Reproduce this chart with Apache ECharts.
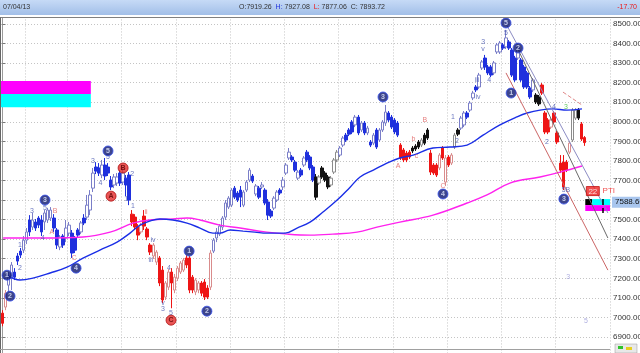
<!DOCTYPE html>
<html><head><meta charset="utf-8">
<script src="https://cdn.jsdelivr.net/npm/echarts@6/dist/echarts.min.js"></script>
<style>html,body{margin:0;padding:0;background:#fff}#c{width:640px;height:353px}</style>
</head><body><div id="c"></div>
<script>
// ---------- data ----------
const categoryCount = 202; // 194 sessions + empty space on the right
// [open, close, low, high]
const candleOHLC = [
[7022,6970,6955,7037],[7053,7124,7037,7140],[7165,7206,7130,7232],[7201,7268,7140,7283],[7232,7206,7191,7252],
[7314,7288,7268,7329],[7339,7319,7304,7355],[7344,7395,7329,7416],[7395,7437,7375,7457],[7498,7437,7416,7523],
[7462,7498,7447,7534],[7488,7457,7442,7503],[7508,7472,7457,7518],[7498,7437,7416,7523],[7488,7534,7447,7549],
[7498,7549,7483,7560],[7508,7549,7493,7564],[7508,7457,7437,7528],[7447,7370,7350,7457],[7360,7411,7344,7421],
[7416,7370,7355,7426],[7406,7457,7385,7498],[7431,7472,7416,7488],[7431,7329,7304,7447],[7406,7344,7329,7416],
[7447,7421,7411,7457],[7437,7483,7426,7493],[7508,7483,7472,7528],[7513,7574,7498,7626],[7549,7626,7523,7651],
[7661,7738,7641,7764],[7769,7748,7733,7794],[7764,7738,7723,7789],[7728,7779,7712,7805],[7779,7723,7702,7815],
[7769,7738,7723,7789],[7702,7667,7651,7723],[7677,7718,7661,7733],[7687,7718,7672,7738],[7738,7687,7672,7753],
[7692,7738,7677,7764],[7712,7677,7620,7728],[7728,7600,7574,7743],[7528,7488,7467,7549],[7513,7462,7447,7528],
[7462,7421,7395,7477],[7437,7472,7426,7483],[7518,7467,7447,7549],[7452,7411,7395,7462],[7370,7334,7319,7380],
[7314,7370,7299,7380],[7283,7334,7268,7344],[7304,7176,7160,7314],[7242,7089,7073,7263],[7104,7176,7089,7186],
[7155,7232,7140,7247],[7232,7176,7047,7252],[7140,7206,7124,7222],[7201,7252,7186,7263],[7232,7278,7222,7288],
[7242,7293,7232,7304],[7304,7268,7252,7319],[7304,7140,7124,7314],[7206,7140,7124,7217],[7130,7191,7114,7201],
[7140,7176,7124,7186],[7176,7124,7109,7186],[7181,7104,7089,7196],[7150,7104,7094,7165],[7155,7329,7140,7344],
[7339,7395,7329,7406],[7406,7437,7385,7457],[7426,7467,7416,7477],[7462,7508,7447,7518],[7513,7585,7498,7600],
[7564,7610,7554,7620],[7574,7651,7564,7661],[7661,7615,7605,7672],[7636,7600,7590,7646],[7651,7615,7564,7672],
[7574,7641,7564,7651],[7651,7692,7641,7702],[7702,7753,7692,7764],[7723,7697,7687,7733],[7631,7672,7620,7682],
[7661,7615,7605,7672],[7667,7677,7656,7692],[7651,7585,7574,7661],[7590,7523,7498,7605],[7544,7518,7508,7554],
[7559,7610,7549,7620],[7600,7641,7590,7651],[7651,7636,7626,7661],[7667,7702,7651,7718],[7738,7779,7728,7789],
[7815,7845,7805,7866],[7820,7805,7794,7830],[7794,7753,7743,7805],[7712,7743,7702,7753],[7753,7728,7718,7764],
[7779,7815,7769,7825],[7845,7805,7794,7856],[7820,7764,7753,7830],[7769,7702,7692,7779],[7718,7615,7600,7733],
[7687,7718,7677,7728],[7764,7718,7708,7774],[7738,7702,7692,7748],[7718,7667,7656,7728],[7677,7712,7667,7723],
[7743,7805,7733,7815],[7805,7845,7794,7856],[7830,7866,7820,7876],[7881,7917,7871,7927],[7932,7907,7897,7943],
[7958,7937,7927,7968],[7999,7948,7937,8009],[7984,8024,7973,8035],[8024,7943,7932,8035],[7958,7994,7948,8004],
[7994,7943,7932,8004],[7943,7968,7932,7979],[7897,7881,7871,7907],[7891,7932,7881,7943],[7958,7871,7861,7968],
[7907,7958,7897,7968],[7958,7999,7948,8009],[7994,8050,7979,8086],[8045,8009,7999,8055],[8024,7973,7963,8035],
[8009,7948,7937,8019],[7994,7932,7922,8004],[7881,7815,7805,7891],[7856,7805,7794,7866],[7840,7805,7794,7851],
[7845,7820,7810,7856],[7866,7851,7840,7876],[7876,7861,7851,7886],[7897,7871,7861,7907],[7881,7907,7871,7917],
[7932,7891,7881,7943],[7958,7917,7907,7968],[7840,7743,7728,7856],[7779,7738,7728,7789],[7779,7728,7718,7789],
[7764,7830,7753,7840],[7866,7815,7805,7876],[7692,7815,7672,7830],[7820,7779,7769,7830],[7789,7830,7779,7840],
[7871,7932,7861,7943],[7958,7937,7927,7968],[7968,8019,7958,8030],[7984,8045,7973,8055],[8045,8024,8014,8055],
[8060,8096,8050,8106],[8122,8147,8111,8158],[8178,8163,8152,8188],[8178,8239,8168,8250],[8275,8306,8265,8316],
[8326,8280,8265,8342],[8280,8250,8239,8291],[8280,8239,8229,8291],[8250,8301,8239,8311],[8357,8393,8347,8403],
[8357,8403,8347,8413],[8393,8377,8367,8403],[8383,8429,8372,8470],[8408,8377,8367,8418],[8367,8239,8229,8377],
[8326,8214,8204,8337],[8326,8383,8316,8393],[8316,8214,8204,8326],[8280,8178,8168,8291],[8250,8178,8168,8260],
[8173,8127,8117,8183],[8163,8214,8152,8224],[8137,8101,8091,8147],[8127,8091,8081,8137],[8188,8147,8137,8198],
[8045,7948,7937,8055],[8009,7948,7937,8019],[7973,8009,7963,8019],[8045,7999,7989,8055],[7943,7897,7886,7953],
[7789,7753,7738,7830],[7794,7667,7651,7830],[7794,7753,7743,7805],[7845,7891,7835,7902],[7907,8060,7897,8070],
[8019,8060,8009,8070],[8060,8019,8009,8070],[7989,7912,7902,7999],[7919.26,7893.72,7877.06,7927.08]
];
// B blue filled, b blue hollow, R red filled, r red hollow, K black filled, k black hollow
const candleStyle = "RrbbBBBbbB"+"bBBBbbbBBb"+"BbbBBBbBbb"+"bBBbBBBbbB"+"bBBRRRrRRR"+
  "rrRRrrRrrr"+"rRRRrrRRRr"+"bbbbbbbBBB"+"bbbBbBbBBB"+"bbBbbbBBbB"+
  "bBBBKkKKKk"+"kkbbBBBbBb"+"BbBbBbbbBB"+"BBRRRRKKKk"+"KKRRRrRrRr"+
  "kKbbBbbBbb"+"BBBbbbBbBB"+"BbBBBBbKKR"+"RRrRRRRRrk"+"kKRR";

// moving averages: [session index, price]
const blueMA = [[1.5,7216],[5.8,7191],[10.1,7201],[15.8,7227],[21.4,7257],[26.7,7303],[32.3,7344],[38,7385],
 [42.3,7431],[45.6,7472],[48.9,7493],[52.2,7503],[56.5,7498],[61.2,7482],[65.5,7457],[69.8,7431],[72.1,7431],
 [75.5,7447],[79.8,7441],[83.7,7436],[87.7,7431],[93.7,7431],[97.7,7457],[102,7487],[106.3,7539],[111,7600],
 [115.3,7666],[118.6,7718],[123,7753],[127.5,7789],[131.8,7815],[136.2,7830],[142.8,7866],[148.4,7871],
 [154.1,7881],[159.4,7932],[165,7984],[170.6,8025],[174,8045],[178.3,8060],[182.6,8066],[187.2,8060],[192.2,8066]];
const pinkMA = [[0.2,7406],[13.4,7406],[26.7,7411],[35.7,7436],[43.3,7482],[48.9,7498],[56.5,7503],[61.2,7508],
 [65.5,7498],[72.1,7472],[78.8,7457],[87.7,7436],[94.4,7426],[102,7421],[109.6,7426],[117.6,7436],[124.2,7462],
 [131.8,7487],[142.8,7523],[154.1,7585],[160.7,7626],[168.3,7687],[178.3,7718],[185,7743],[192.2,7774]];

// trend channel lines
const trendA = [[166.7,8510],[200.8,7534]];
const trendB = [[170.6,8383],[200.8,7406]];
const trendC = [[167,8250],[200.8,7242]];
const trendD = [[185.9,8152],[192.2,8086]];

// price zones [x1, price1, x2, price2]
const zoneMagentaLeft = [-0.5,8209,29.3,8142];
const zoneCyanLeft = [-0.5,8142,29.3,8075];
const zoneBlackRight = [193.3,7605,195.6,7574];
const zoneCyanRight = [195.6,7605,201.5,7574];
const zoneMagentaRight = [193.3,7574,201.5,7544];
const zoneTick = [199.2,7605,7534];
const lastPrice = 7588.60;
const ptiNote = [193.5,7646,'22','PTI'];

// wave labels [session index, price, text]
const blueCircles = [[1.5,7216,'1'],[2.5,7109,'2'],[14.1,7600,'3'],[24.4,7252,'4'],[35,7851,'5'],[61.9,7339,'1'],
 [67.8,7032,'2'],[126.2,8127,'3'],[146.1,7631,'4'],[167,8505,'5'],[168.7,8147,'1'],[171,8377,'2'],[186.2,7605,'3']];
const redCircles = [[36,7620,'A'],[40,7764,'B'],[55.9,6986,'C']];
const blueNotes = [[5.8,7370,'1'],[5.8,7252,'2'],[9.8,7544,'3'],[14.1,7559,'5'],[13.4,7406,'4'],[30,7800,'3'],
 [35,7820,'5'],[32.5,7687,'4'],[43,7733,'2'],[41,7605,'1'],[43.3,7569,'1'],[49.9,7395,'iv'],[49.2,7293,'iii'],
 [55.2,7252,'4'],[53.2,7073,'v'],[53.2,7042,'3'],[55.9,7022,'5'],[149.4,8025,'1'],[150.7,7902,'2'],
 [157.4,8214,'iii'],[157.7,8127,'iv'],[159.4,8408,'3'],[159.4,8372,'v'],[161.4,8214,'4'],[167,8454,'5'],
 [182.9,8076,'4'],[180.6,7897,'2'],[186.9,7651,'5B']];
const redNotes = [[16.4,7436,'A'],[17.4,7544,'B'],[23.7,7303,'C'],[47.6,7539,'ii'],[131.2,7774,'A'],
 [140.1,8009,'B'],[136.3,7912,'b'],[137.3,7825,'c'],[146.1,7672,'C']];
const greenNotes = [[186.9,8076,'3']];
const lightNotes = [[187.6,7206,'3'],[193.5,6981,'5']];

// header values
const hdrDate = '07/04/13', hdrO = '7919.26', hdrH = '7927.08', hdrL = '7877.06', hdrC = '7893.72', hdrChg = '-17.70';

// ---------- chart ----------
const STY = {
  B:{fill:'#1f30dd', line:'#1f30dd'}, b:{fill:'#ffffff', line:'#7a7ec8'},
  R:{fill:'#ee1515', line:'#ee1515'}, r:{fill:'#ffffff', line:'#d98c8c'},
  K:{fill:'#111111', line:'#111111'}, k:{fill:'#ffffff', line:'#8c8c8c'}
};
const cats = Array.from({length: categoryCount}, (_, i) => String(i));
const candleData = candleOHLC.map((v, i) => {
  const s = STY[candleStyle[i]];
  return {value: v, itemStyle: {color: s.fill, color0: s.fill, borderColor: s.line, borderColor0: s.line, borderWidth: 1}};
});
const FONT = 'Liberation Sans';
const CLEAR = 'rgba(0,0,0,0)';
function noteSeries(arr, color, size) {
  return {type:'scatter', xAxisIndex:1, yAxisIndex:0, symbolSize:1, itemStyle:{color: CLEAR}, z:6, silent:true,
    data: arr.map(a => ({value:[a[0], a[1]], name:a[2]})),
    label:{show:true, position:'inside', formatter: p => p.name, color: color, fontSize: size || 7, fontFamily: FONT}};
}
function circleSeries(arr, fill, txt, ring) {
  return {type:'scatter', xAxisIndex:1, yAxisIndex:0, symbol:'circle', symbolSize:10, z:7, silent:true,
    itemStyle:{color: fill, borderColor: ring, borderWidth: 1},
    data: arr.map(a => ({value:[a[0], a[1]], name:a[2]})),
    label:{show:true, position:'inside', formatter: p => p.name, color: txt, fontSize: 7, fontWeight:'bold', fontFamily: FONT}};
}
function zone(z, color) { return [{coord:[z[0], z[1]], itemStyle:{color: color, opacity: 1}}, {coord:[z[2], z[3]]}]; }
function trend(d, color, type) {
  return {type:'line', xAxisIndex:1, yAxisIndex:0, data:d, showSymbol:false, silent:true, z:4,
    lineStyle:{color: color, width: 1, type: type || 'solid'}};
}

const chart = echarts.init(document.getElementById('c'), null, {renderer:'canvas'});
chart.setOption({
  animation:false,
  backgroundColor:'#ffffff',
  grid:{left:1, right:30, top:4.44, height:352.12, show:false, containLabel:false, outerBoundsMode:'none'},
  xAxis:[
    {type:'category', data:cats, boundaryGap:true, axisLine:{show:false}, axisTick:{show:false}, axisLabel:{show:false},
     splitLine:{show:true, interval:(i) => (i % 18 === 4 && i > 4) || i === 8,
       lineStyle:{color:'#c4c4c4', type:[1,2], width:1}}},
    {type:'value', min:-0.5, max:201.5, show:false}
  ],
  yAxis:[{type:'value', position:'right', min:6800, max:8600, interval:100,
    axisLine:{show:true, lineStyle:{color:'#9a9a9a'}},
    axisTick:{show:true, length:3, lineStyle:{color:'#777'}},
    axisLabel:{formatter: v => v.toFixed(2), fontSize:8, color:'#333', margin:3, fontFamily: FONT},
    splitLine:{show:true, lineStyle:{color:'#c4c4c4', type:[1,2]}}}],
  series:[
    {type:'candlestick', xAxisIndex:0, yAxisIndex:0, data:candleData, barWidth:3, z:2, silent:true},
    {type:'line', xAxisIndex:1, yAxisIndex:0, data:pinkMA, smooth:0.4, showSymbol:false, z:3, silent:true,
     lineStyle:{color:'#ff22ee', width:1.4}},
    {type:'line', xAxisIndex:1, yAxisIndex:0, data:blueMA, smooth:0.4, showSymbol:false, z:3, silent:true,
     lineStyle:{color:'#1a2ee6', width:1.4}},
    trend(trendA, '#8c8cc4'), trend(trendB, '#6a6a6a'), trend(trendC, '#cc6666'), trend(trendD, '#e08888', 'dashed'),
    {type:'line', xAxisIndex:1, yAxisIndex:0, data:[], z:1, silent:true,
     markArea:{silent:true, data:[zone(zoneMagentaLeft,'#ff00ff'), zone(zoneCyanLeft,'#00ffff'),
       zone(zoneBlackRight,'#000000'), zone(zoneCyanRight,'#00ffff'), zone(zoneMagentaRight,'#ff00ff')]},
     markLine:{silent:true, symbol:'none', animation:false,
       data:[
         [{coord:[zoneTick[0], zoneTick[1]], lineStyle:{color:'#000', width:1.5}, label:{show:false}},
          {coord:[zoneTick[0], zoneTick[2]]}]
       ]}},
    {type:'line', xAxisIndex:1, yAxisIndex:0, data:[], z:9, silent:true,
     markLine:{silent:true, symbol:'none', animation:false, lineStyle:{color: CLEAR, width:0.1},
       label:{show:true, position:'end', distance:2, formatter: lastPrice.toFixed(2),
         backgroundColor:'#a9c6ee', color:'#111', fontSize:8, padding:[2,3,1,3], fontFamily: FONT},
       data:[[{coord:[194, lastPrice]}, {coord:[201.5, lastPrice]}]]}},
    {type:'scatter', xAxisIndex:1, yAxisIndex:0, symbolSize:1, itemStyle:{color: CLEAR}, z:8, silent:true,
     data:[{value:[ptiNote[0], ptiNote[1]]}],
     label:{show:true, position:'right', distance:0, formatter:'{a|' + ptiNote[2] + '} {b|' + ptiNote[3] + '}',
       rich:{a:{backgroundColor:'#ee2222', color:'#fff', fontSize:8, padding:[1,2,0,2], borderColor:'#aa0000', borderWidth:0.5, fontFamily: FONT},
             b:{color:'#ee2222', fontSize:8, fontFamily: FONT}}}},
    circleSeries(blueCircles, '#0c1670', '#e6ecff', '#3a52ee'),
    circleSeries(redCircles, '#e42a2a', '#5a0000', '#b01010'),
    noteSeries(blueNotes, '#4656b0'),
    noteSeries(redNotes, '#e06060'),
    noteSeries(greenNotes, '#3cbf3c'),
    noteSeries(lightNotes, '#9a9ad8')
  ],
  graphic:[
    {type:'rect', z:100, shape:{x:0, y:0, width:640, height:15},
     style:{fill:new echarts.graphic.LinearGradient(0,0,0,1,[{offset:0,color:'#c6daf6'},{offset:1,color:'#a2bfe8'}])}},
    {type:'rect', z:100, shape:{x:0, y:15, width:640, height:3}, style:{fill:'#ffffff'}},
    {type:'line', z:101, shape:{x1:0, y1:17.5, x2:640, y2:17.5}, style:{stroke:'#808080', lineWidth:1}},
    {type:'line', z:101, shape:{x1:0.5, y1:17.5, x2:0.5, y2:353}, style:{stroke:'#666', lineWidth:1}},
    {type:'line', z:101, shape:{x1:0, y1:349.5, x2:610, y2:349.5}, style:{stroke:'#a0a0a0', lineWidth:1}},
    {type:'text', z:102, x:3, y:4, style:{text:hdrDate, fill:'#333', font:'7px "Liberation Sans"'}},
    {type:'text', z:102, x:239, y:4, style:{
      text:'O:' + hdrO + '  {h|H:} ' + hdrH + '  {l|L:} ' + hdrL + '  C: ' + hdrC,
      fill:'#333', font:'7px "Liberation Sans"',
      rich:{h:{fill:'#2233dd', font:'7px "Liberation Sans"'}, l:{fill:'#ee1515', font:'7px "Liberation Sans"'}}}},
    {type:'text', z:102, x:637, y:4, style:{text:hdrChg, fill:'#ee1515', font:'7px "Liberation Sans"', align:'right'}},
    {type:'rect', z:102, shape:{x:615, y:344, width:22, height:9}, style:{fill:'#e8e8e8', stroke:'#999', lineWidth:0.5}},
    {type:'rect', z:103, shape:{x:618, y:346, width:5, height:3}, style:{fill:'#2ec42e'}},
    {type:'rect', z:103, shape:{x:626, y:347, width:6, height:3}, style:{fill:'#e8d020'}}
  ]
});
</script>
</body></html>
